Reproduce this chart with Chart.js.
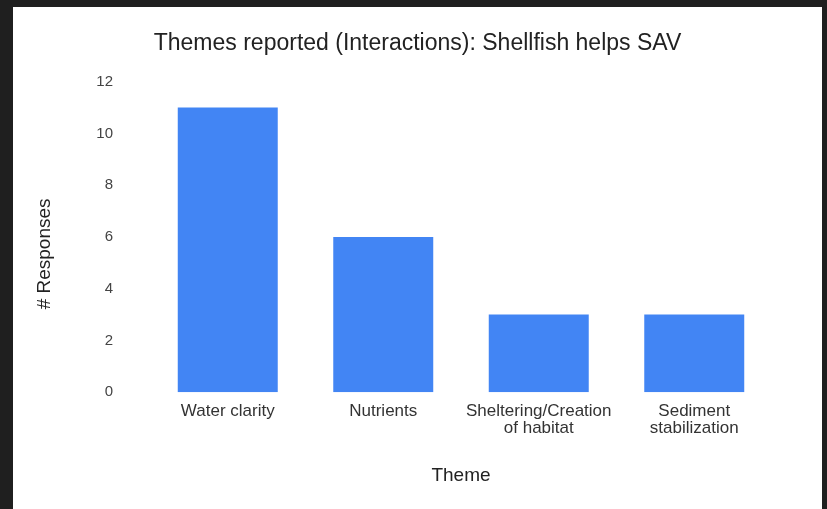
<!DOCTYPE html>
<html>
<head>
<meta charset="utf-8">
<script src="https://cdn.jsdelivr.net/npm/chart.js@4"></script>
<style>
  html, body { margin: 0; padding: 0; background: #1f1f1f; }
  #card {
    position: absolute;
    left: 13px; top: 7px;
    width: 809px; height: 502px;
    background: #fff;
  }
</style>
</head>
<body>
<div id="card"><canvas id="chart" width="809" height="502"></canvas></div>
<script>
  // themes and response counts
  var themes = ['Water clarity', 'Nutrients', ['Sheltering/Creation', 'of habitat'], ['Sediment', 'stabilization']];
  var responses = [11, 6, 3, 3];
  var yTicks = [0, 2, 4, 6, 8, 10, 12];
  var yTitle = '# Responses';

  var font = 'Liberation Sans, Arial, sans-serif';
  var ctx = document.getElementById('chart').getContext('2d');

  // vertical axis title, sitting a little below the middle of the plot
  var yTitlePlugin = {
    id: 'yTitle',
    afterDraw: function(chart) {
      var area = chart.chartArea;
      var c = chart.ctx;
      c.save();
      c.translate(32, (area.top + area.bottom) / 2 + 17);
      c.rotate(-Math.PI / 2);
      c.fillStyle = '#222';
      c.font = '19px ' + font;
      c.textAlign = 'center';
      c.textBaseline = 'middle';
      c.fillText(yTitle, 0, 0);
      c.restore();
    }
  };

  new Chart(ctx, {
    type: 'bar',
    data: {
      labels: themes,
      datasets: [{
        data: responses,
        backgroundColor: '#4285f4',
        barPercentage: 0.643,
        categoryPercentage: 1
      }]
    },
    plugins: [yTitlePlugin],
    options: {
      responsive: false,
      animation: false,
      layout: { padding: { left: 0, right: 0, top: 0, bottom: 22 } },
      plugins: {
        legend: { display: false },
        tooltip: { enabled: false },
        title: {
          display: true,
          text: 'Themes reported (Interactions): Shellfish helps SAV',
          color: '#222',
          font: { family: font, size: 23, weight: 'normal', lineHeight: 1.2 },
          padding: { top: 23, bottom: 24 }
        }
      },
      scales: {
        x: {
          grid: { display: false, drawTicks: false },
          border: { display: false },
          // fixed side margins instead of the label-driven ones
          afterFit: function(axis) {
            axis.paddingLeft = 0;
            axis.paddingRight = 50;
          },
          ticks: {
            color: '#333',
            font: { family: font, size: 17, lineHeight: 1.0 },
            maxRotation: 0,
            padding: 11
          },
          title: {
            display: true,
            text: 'Theme',
            color: '#222',
            font: { family: font, size: 19, lineHeight: 1.2 },
            padding: { top: 16, bottom: 0 }
          }
        },
        y: {
          min: 0,
          max: 12,
          grid: { display: false },
          border: { display: false },
          afterBuildTicks: function(axis) {
            axis.ticks = yTicks.map(function(v) { return { value: v }; });
          },
          afterFit: function(axis) {
            axis.width = 137;
            axis.paddingTop = 0;
            axis.paddingBottom = 0;
          },
          ticks: {
            color: '#444',
            font: { family: font, size: 15 },
            padding: 29
          }
        }
      }
    }
  });
</script>
</body>
</html>
